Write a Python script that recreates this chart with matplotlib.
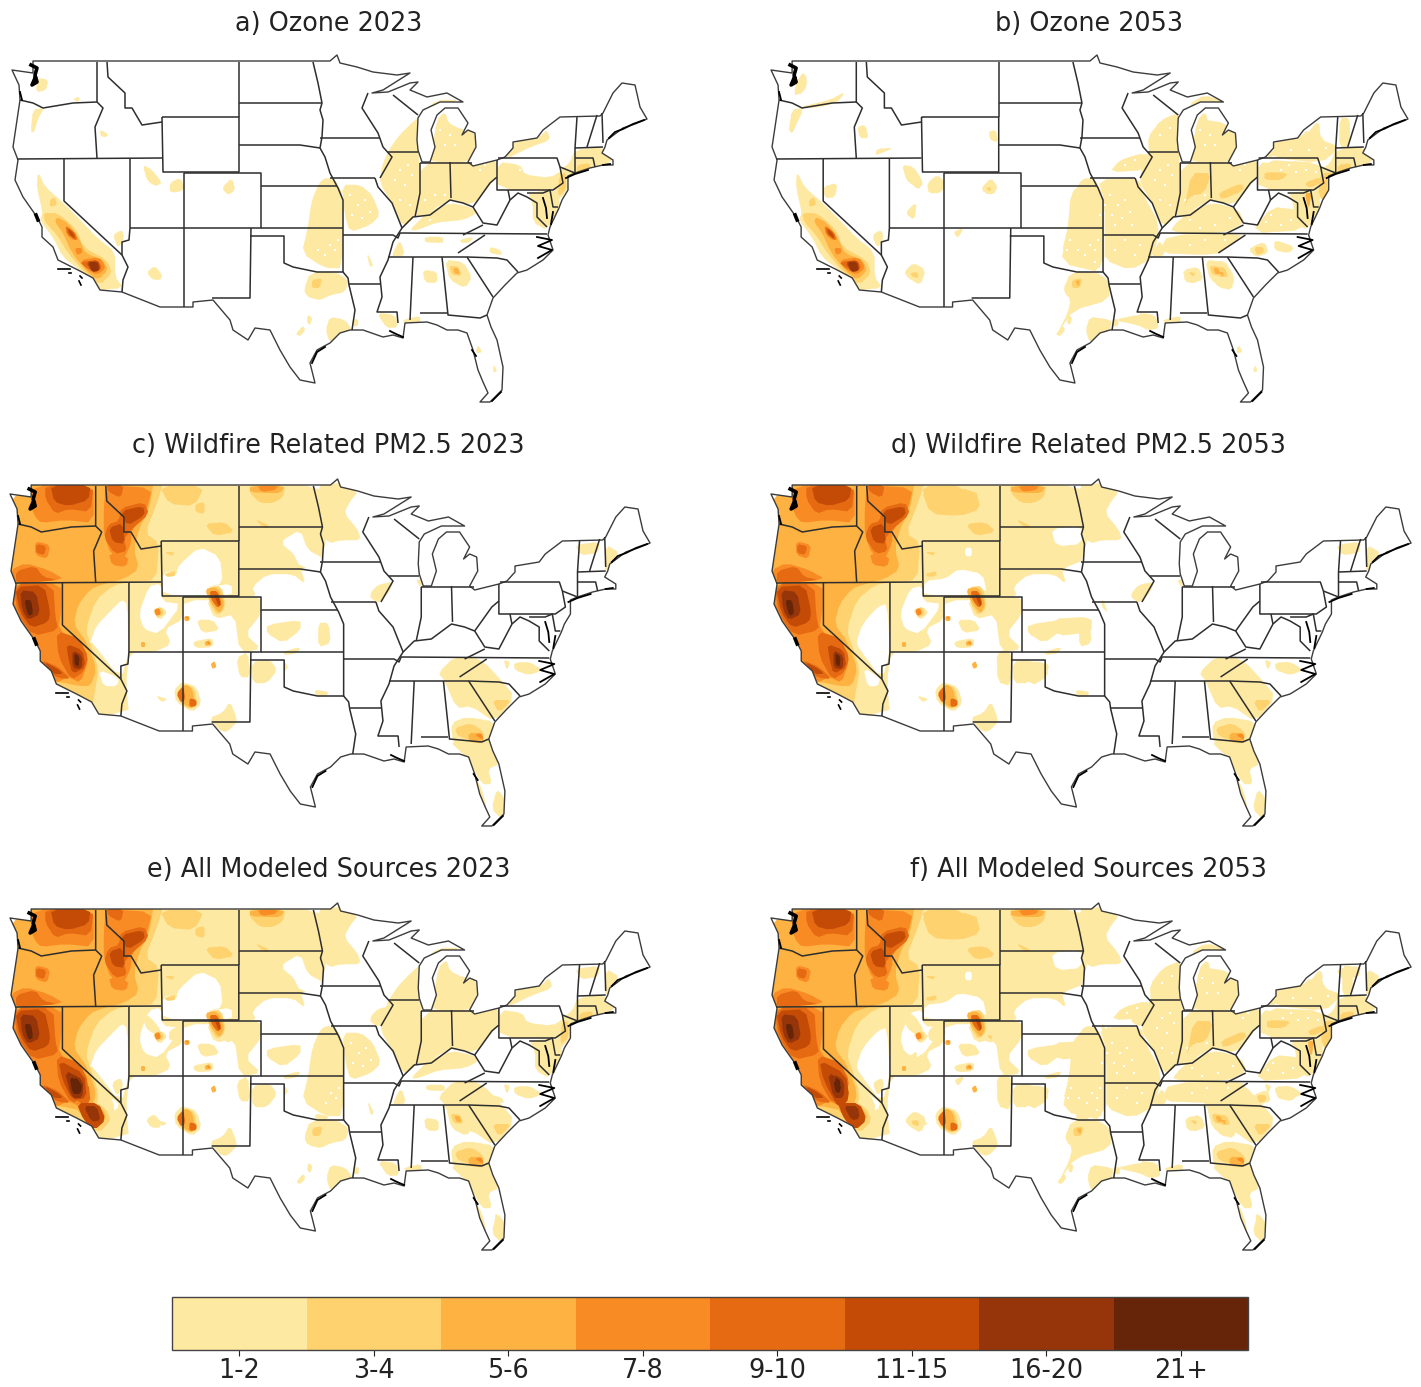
import matplotlib
matplotlib.use('Agg')
from matplotlib import pyplot as plt
from matplotlib.colors import ListedColormap, BoundaryNorm
from matplotlib.cm import ScalarMappable
from matplotlib.patches import Polygon

W, H = 1421, 1387

TITLES = ['a) Ozone 2023', 'b) Ozone 2053', 'c) Wildfire Related PM2.5 2023',
          'd) Wildfire Related PM2.5 2053', 'e) All Modeled Sources 2023', 'f) All Modeled Sources 2053']
BIN_LABELS = ['1-2', '3-4', '5-6', '7-8', '9-10', '11-15', '16-20', '21+']
BIN_COLORS = ['#FDE9A1', '#FDD26F', '#FDB241', '#F98B25', '#E56A12', '#C34B06', '#96350A', '#662508']

# map coordinates
OUTLINE = [(33, 61), (330, 61), (337, 55), (340, 63), (357, 67), (373, 72), (397, 75), (410, 73), (383, 90),
           (372, 93), (388, 92), (410, 83), (418, 82), (410, 90), (427, 97), (447, 93),
           (463, 102), (440, 102), (423, 110), (418, 118), (417, 140), (418, 150), (422, 162), (430, 162),
           (435, 147), (431, 130), (437, 115), (445, 108), (458, 108), (468, 123), (462, 135), (468, 130),
           (475, 133), (476, 147), (468, 162), (473, 166), (497, 160), (505, 157), (513, 148), (513, 142),
           (537, 138), (543, 130), (560, 117), (600, 116), (603, 113), (613, 93), (622, 83), (635, 85),
           (640, 107), (647, 119), (635, 124), (623, 128), (615, 134), (607, 140), (605, 147), (602, 153),
           (613, 160), (613, 165), (603, 165), (590, 168), (575, 173), (568, 176), (568, 190), (562, 200),
           (559, 208), (550, 227), (548, 235), (553, 250), (543, 260), (527, 270), (517, 273), (505, 285),
           (493, 298), (487, 315), (491, 327), (497, 340), (503, 367), (502, 390), (490, 402), (480, 402),
           (488, 393), (483, 382), (478, 370), (473, 350), (467, 333), (458, 330), (447, 330), (437, 325),
           (427, 322), (405, 323), (403, 338), (393, 335), (383, 337), (363, 330), (350, 330), (340, 333),
           (330, 343), (317, 350), (310, 363), (315, 383), (300, 380), (290, 367), (280, 350), (270, 330),
           (255, 328), (248, 340), (233, 330), (230, 320), (213, 300), (193, 302), (193, 307), (160, 307),
           (122, 292), (100, 290), (93, 278), (78, 270), (58, 260), (53, 247), (42, 237), (42, 227), (37, 217),
           (23, 197), (15, 180), (18, 160), (13, 147), (20, 100), (19, 85), (12, 70), (33, 73)]

STATE_LINES = [
    [(20, 100), (33, 103), (43, 108), (73, 103), (97, 102)],
    [(97, 62), (97, 102), (103, 108), (95, 127), (97, 158)],
    [(17, 159), (162, 158)],
    [(107, 62), (108, 77), (125, 93), (125, 108), (132, 108), (142, 125), (162, 122)],
    [(162, 117), (239, 117), (239, 172), (163, 172), (162, 117)],
    [(239, 62), (239, 117)],
    [(239, 103), (322, 103)],
    [(239, 145), (300, 145), (320, 148)],
    [(313, 62), (318, 83), (322, 103), (320, 110), (323, 120), (322, 137), (320, 148), (325, 157), (330, 173),
     (338, 188), (343, 200), (343, 272)],
    [(320, 138), (380, 138)],
    [(330, 178), (375, 178)],
    [(261, 186), (337, 186)],
    [(184, 173), (261, 173), (261, 228), (130, 228)],
    [(261, 228), (343, 228)],
    [(343, 235), (393, 235), (398, 238), (400, 233), (547, 234)],
    [(130, 158), (130, 228), (129, 240), (122, 242), (122, 255), (128, 267), (123, 280), (122, 292)],
    [(184, 173), (184, 307)],
    [(64, 158), (64, 201), (122, 255)],
    [(251, 228), (250, 298), (212, 298)],
    [(250, 236), (284, 236), (284, 263), (293, 267), (317, 272), (343, 272), (348, 278), (349, 285), (355, 310),
     (352, 330)],
    [(349, 284), (380, 284)],
    [(375, 178), (378, 187), (392, 203), (402, 228), (393, 242), (388, 260), (380, 277), (382, 297), (377, 312),
     (397, 312), (398, 323)],
    [(388, 152), (418, 152)],
    [(368, 93), (362, 108), (378, 133), (383, 147), (392, 157), (380, 178)],
    [(393, 95), (418, 115)],
    [(420, 163), (420, 193), (415, 217)],
    [(420, 163), (472, 163)],
    [(450, 162), (451, 198)],
    [(402, 228), (413, 217), (430, 215), (450, 200), (463, 203), (473, 207), (490, 183), (497, 177)],
    [(498, 158), (557, 158), (560, 167), (563, 183), (553, 190), (497, 190), (497, 160)],
    [(473, 207), (483, 223), (497, 225), (510, 200), (518, 193), (527, 197), (537, 203), (537, 217), (547, 227)],
    [(508, 190), (510, 200)],
    [(527, 193), (543, 193), (550, 190), (553, 207), (558, 207)],
    [(483, 225), (463, 235)],
    [(388, 257), (467, 257), (497, 258), (507, 260), (518, 272)],
    [(485, 235), (473, 243), (458, 253)],
    [(467, 257), (493, 297)],
    [(442, 257), (448, 315), (480, 318), (487, 315)],
    [(413, 257), (410, 320)],
    [(420, 313), (447, 313)],
    [(577, 117), (575, 148), (575, 173)],
    [(575, 148), (603, 147)],
    [(575, 158), (593, 158), (595, 167)],
    [(597, 115), (587, 147)],
    [(602, 113), (603, 143)],
    [(560, 167), (575, 173)],
]

COAST_DARK = [
    [(31, 65), (37, 68), (35, 75), (37, 82), (32, 85), (35, 78)],
    [(36, 215), (38, 220)],
]
COAST_THIN = [
    [(20, 92), (22, 100)],
    [(543, 198), (546, 208), (547, 218)],
    [(553, 212), (551, 224)],
    [(537, 237), (552, 240), (538, 246), (552, 250), (538, 258)],
    [(609, 138), (615, 132), (623, 129), (633, 124), (644, 120)],
    [(566, 178), (575, 174), (588, 170)],
    [(603, 165), (610, 164)],
    [(312, 363), (317, 352), (325, 347)],
    [(390, 331), (396, 334), (403, 337)],
    [(472, 350), (476, 356)],
    [(492, 401), (501, 392)],
]

ISLANDS = [[(58, 269), (70, 269)], [(69, 273), (71, 273)], [(80, 276), (82, 278)], [(79, 281), (81, 285)]]

OZONE_2023 = [
    (1, [(38, 172), (45, 187), (62, 202), (80, 220), (97, 238), (115, 252), (115, 277), (123, 288), (97, 290),
         (80, 270), (63, 257), (53, 237), (40, 220), (43, 213), (37, 187)]),
    (1, [(38, 78), (48, 80), (46, 90), (36, 92)]),
    (1, [(33, 110), (44, 108), (38, 118), (34, 132), (31, 132)]),
    (1, [(73, 99), (80, 97), (78, 102)]),
    (1, [(100, 130), (108, 134), (106, 137), (101, 136)]),
    (1, [(113, 235), (122, 230), (124, 238), (118, 248)]),
    (1, [(143, 165), (152, 170), (162, 183), (155, 186), (147, 180)]),
    (1, [(170, 183), (180, 178), (185, 188), (178, 192), (170, 192)]),
    (1, [(222, 188), (232, 178), (235, 190), (228, 195)]),
    (1, [(147, 272), (155, 266), (162, 275), (160, 280), (152, 279)]),
    (1, [(320, 182), (326, 178), (335, 180), (343, 195), (343, 268), (325, 268), (302, 253), (308, 228), (312, 200)]),
    (1, [(304, 290), (310, 273), (335, 272), (348, 280), (345, 292), (330, 295), (320, 300), (308, 297)]),
    (1, [(296, 334), (303, 326), (305, 330), (300, 336)]),
    (1, [(308, 315), (312, 318), (310, 325), (307, 322)]),
    (1, [(330, 317), (345, 320), (352, 330), (340, 333), (330, 343), (326, 330)]),
    (1, [(342, 185), (360, 185), (372, 195), (380, 215), (370, 225), (350, 232), (345, 215)]),
    (1, [(382, 167), (388, 152), (398, 137), (415, 120), (420, 118), (418, 153), (422, 190), (415, 217), (403, 227),
         (392, 203), (380, 183)]),
    (1, [(420, 162), (472, 162), (497, 160), (497, 175), (490, 185), (473, 205), (450, 200), (440, 205), (425, 215),
         (415, 217)]),
    (1, [(410, 230), (427, 213), (450, 203), (470, 207), (477, 213), (463, 220), (437, 222), (417, 230)]),
    (1, [(432, 153), (437, 120), (445, 112), (448, 123), (462, 130), (470, 128), (477, 140), (473, 153), (467, 162),
         (432, 162)]),
    (1, [(420, 115), (437, 100), (460, 100), (437, 110)]),
    (1, [(507, 157), (513, 142), (540, 137), (547, 130), (550, 140), (530, 147), (510, 157)]),
    (1, [(498, 162), (520, 165), (525, 175), (550, 178), (563, 170), (565, 190), (498, 190)]),
    (1, [(575, 150), (603, 147), (613, 163), (573, 180), (560, 200), (553, 197), (560, 170), (570, 163)]),
    (1, [(528, 193), (557, 190), (560, 207), (547, 230), (533, 222), (533, 203)]),
    (1, [(445, 260), (463, 262), (472, 277), (465, 288), (450, 280)]),
    (1, [(423, 270), (437, 272), (437, 283), (425, 282)]),
    (1, [(490, 247), (500, 250), (502, 255), (490, 253)]),
    (1, [(425, 237), (443, 237), (443, 243), (425, 242)]),
    (1, [(460, 240), (473, 237), (470, 242), (462, 243)]),
    (1, [(393, 253), (400, 240), (405, 255), (393, 257)]),
    (1, [(367, 253), (373, 265), (370, 267)]),
    (1, [(377, 313), (395, 315), (398, 327), (387, 328)]),
    (1, [(353, 320), (358, 319), (358, 326), (353, 326)]),
    (1, [(403, 320), (420, 316), (420, 323), (405, 323)]),
    (1, [(478, 345), (482, 352), (476, 353)]),
    (1, [(494, 365), (497, 371), (493, 372)]),
    (2, [(43, 213), (58, 213), (77, 230), (83, 247), (107, 260), (112, 273), (100, 285), (85, 273), (68, 253),
         (57, 235), (45, 222)]),
    (2, [(50, 200), (55, 197), (57, 205), (50, 207)]),
    (2, [(449, 266), (458, 266), (462, 276), (452, 275)]),
    (2, [(312, 280), (322, 278), (320, 288), (312, 288)]),
    (2, [(577, 165), (590, 163), (590, 170), (577, 175)]),
    (2, [(559, 176), (566, 172), (566, 190), (558, 197)]),
    (3, [(57, 217), (68, 223), (80, 240), (85, 253), (103, 260), (108, 270), (98, 280), (87, 272), (72, 253),
         (63, 233), (55, 222)]),
    (3, [(453, 268), (458, 268), (460, 274), (455, 274)]),
    (3, [(570, 175), (590, 168), (588, 172), (568, 180)]),
    (4, [(65, 225), (75, 232), (78, 240), (73, 240), (67, 235)]),
    (4, [(75, 248), (82, 248), (82, 253), (77, 255)]),
    (4, [(80, 260), (100, 257), (106, 268), (97, 275), (87, 270)]),
    (5, [(66, 226), (75, 233), (77, 241), (67, 234)]),
    (5, [(80, 262), (98, 260), (102, 268), (95, 272), (85, 267)]),
    (6, [(68, 228), (74, 234), (75, 239), (69, 234)]),
    (6, [(86, 262), (98, 260), (101, 270), (92, 272)]),
    (7, [(88, 262), (98, 262), (99, 271), (92, 272)]),
]

OZONE_2053_EXTRA = [
    (1, [(324, 182), (344, 200), (344, 273), (301, 263), (308, 230), (311, 193)]),
    (1, [(303, 287), (314, 277), (349, 280), (349, 300), (313, 310), (298, 333), (308, 313), (311, 300)]),
    (1, [(329, 317), (351, 320), (351, 327), (331, 340)]),
    (1, [(338, 180), (379, 178), (384, 197), (399, 223), (394, 257), (370, 270), (345, 260), (345, 240), (345, 200)]),
    (1, [(360, 160), (384, 153), (391, 160), (384, 170), (350, 172)]),
    (1, [(388, 137), (401, 120), (418, 113), (421, 130), (421, 153), (389, 153)]),
    (1, [(418, 220), (454, 203), (478, 210), (484, 223), (464, 233), (411, 233)]),
    (1, [(398, 253), (408, 235), (484, 233), (468, 247), (454, 255)]),
    (1, [(508, 157), (518, 140), (544, 137), (558, 120), (560, 140), (579, 147), (561, 163)]),
    (1, [(501, 160), (561, 163), (566, 183), (558, 190), (501, 190)]),
    (1, [(579, 148), (604, 148), (613, 163), (579, 170)]),
    (1, [(579, 118), (589, 118), (589, 145), (579, 148)]),
    (1, [(433, 160), (434, 132), (444, 120), (464, 123), (471, 133), (478, 137), (479, 150), (471, 162)]),
    (1, [(428, 105), (444, 95), (464, 102), (444, 105)]),
    (1, [(538, 210), (544, 230), (491, 233), (511, 207)]),
    (1, [(491, 247), (504, 242), (508, 253), (494, 257)]),
    (1, [(514, 240), (534, 247), (528, 253), (514, 250)]),
    (1, [(448, 265), (464, 260), (474, 277), (471, 290), (458, 287), (451, 277)]),
    (1, [(423, 270), (438, 267), (443, 280), (428, 283)]),
    (1, [(354, 320), (378, 315), (394, 315), (399, 328), (388, 330), (378, 325)]),
    (1, [(43, 72), (48, 78), (44, 93), (34, 95)]),
    (1, [(71, 100), (86, 92), (78, 102), (61, 107), (38, 108)]),
    (1, [(33, 110), (44, 110), (38, 122), (33, 133), (30, 130)]),
    (1, [(98, 127), (106, 125), (109, 138), (101, 138)]),
    (1, [(116, 155), (118, 149), (134, 148), (124, 152)]),
    (1, [(64, 187), (78, 183), (76, 197), (66, 198)]),
    (1, [(143, 165), (154, 167), (164, 183), (158, 190), (148, 177)]),
    (1, [(168, 183), (178, 175), (186, 183), (181, 193), (169, 193)]),
    (1, [(221, 190), (231, 178), (238, 187), (233, 195)]),
    (1, [(145, 272), (154, 263), (166, 270), (161, 285), (149, 278)]),
    (1, [(229, 132), (236, 130), (238, 142), (231, 140)]),
    (1, [(146, 213), (157, 202), (155, 220)]),
    (1, [(194, 232), (204, 228), (198, 238)]),
    (2, [(504, 172), (528, 173), (521, 180), (504, 180)]),
    (2, [(544, 183), (559, 177), (561, 183), (548, 188)]),
    (2, [(561, 173), (573, 173), (568, 197), (559, 200)]),
    (2, [(431, 173), (451, 173), (444, 193), (428, 197), (424, 210)]),
    (2, [(458, 193), (481, 183), (484, 190), (461, 200)]),
    (2, [(494, 247), (503, 247), (503, 253), (496, 255)]),
    (2, [(454, 267), (464, 267), (468, 277), (458, 277)]),
    (2, [(428, 272), (435, 273), (433, 277)]),
    (2, [(226, 188), (231, 187), (231, 192)]),
    (2, [(151, 273), (158, 272), (159, 278), (153, 277)]),
    (3, [(458, 272), (463, 272), (463, 277)]),
    (3, [(573, 177), (594, 172), (593, 175), (574, 180)]),
    (3, [(544, 193), (551, 193), (548, 210)]),
    (3, [(315, 281), (320, 280), (319, 287)]),
]

# white flecks inside the lightest band
SPECKS_2023 = [(350, 195), (358, 205), (365, 200), (352, 215), (362, 218), (370, 212), (338, 240), (335, 250),
               (330, 245), (325, 255), (318, 250), (400, 170), (408, 165), (395, 180), (405, 185), (412, 175),
               (400, 200), (410, 205), (425, 200), (435, 195), (445, 195), (480, 170), (485, 165), (520, 170),
               (535, 172), (545, 170), (555, 172), (440, 130), (450, 135), (455, 145), (445, 145), (430, 220)]
SPECKS_2053 = SPECKS_2023 + [(345, 205), (355, 225), (372, 225), (365, 240), (355, 250), (380, 245), (375, 255),
                             (440, 228), (455, 225), (470, 218), (430, 245), (445, 240), (465, 240), (520, 225),
                             (530, 220), (505, 222), (512, 150), (530, 150), (548, 150), (560, 132), (570, 135),
                             (565, 148), (528, 165), (510, 215), (400, 135), (410, 128), (365, 165), (375, 160),
                             (310, 240), (307, 250), (340, 215), (335, 262)]

FIRE_MAIN = [(0, 50), (325, 50), (325, 135), (300, 145), (305, 160), (293, 150), (267, 150), (252, 163), (256, 172),
             (240, 172), (240, 176), (184, 176), (184, 195), (165, 205), (172, 220), (155, 228), (130, 228),
             (127, 260), (130, 292), (0, 295)]

FIRE_HOLES_2023 = [
    [(283, 116), (300, 106), (307, 126), (322, 134), (322, 143), (300, 143), (293, 129), (283, 121)],
    [(92, 219), (97, 203), (113, 186), (123, 176), (128, 180), (130, 228), (122, 255), (92, 216)],
    [(100, 246), (120, 254), (118, 262), (105, 262)],
    [(180, 141), (200, 123), (220, 133), (223, 159), (207, 163), (187, 161), (177, 149)],
    [(163, 148), (185, 150), (207, 163), (232, 160), (232, 172), (163, 172)],
    [(150, 162), (162, 160), (163, 178), (182, 180), (160, 210), (145, 205), (140, 190)],
]

FIRE_HOLES_2053 = [
    [(290, 105), (320, 102), (320, 120), (295, 122)],
    [(97, 218), (103, 200), (118, 183), (127, 180), (130, 228), (122, 255), (100, 225)],
    [(104, 244), (120, 254), (118, 262), (108, 262)],
    [(205, 124), (211, 124), (211, 132), (205, 132)],
    [(165, 157), (185, 155), (198, 145), (222, 150), (226, 170), (163, 172)],
    [(150, 165), (162, 162), (163, 178), (182, 180), (160, 210), (145, 205), (140, 190)],
]

FIRE_2023 = [
    (1, [(315, 61), (343, 59), (357, 68), (350, 76), (343, 89), (357, 106), (360, 116), (340, 116), (330, 119), (322, 113)]),
    (1, [(233, 173), (261, 173), (261, 190), (245, 210), (261, 225), (240, 228), (235, 190), (215, 195), (207, 175)]),
    (1, [(197, 196), (213, 196), (220, 206), (203, 209)]),
    (1, [(193, 218), (213, 214), (213, 223), (197, 224)]),
    (1, [(267, 201), (300, 196), (300, 206), (283, 219), (267, 209)]),
    (1, [(318, 199), (328, 199), (330, 219), (318, 223)]),
    (1, [(283, 228), (300, 223), (297, 229), (285, 231)]),
    (1, [(237, 234), (248, 228), (250, 253), (240, 253)]),
    (1, [(252, 238), (270, 236), (277, 246), (267, 259), (253, 259)]),
    (1, [(283, 237), (288, 243), (284, 248)]),
    (1, [(210, 294), (223, 289), (230, 278), (235, 289), (237, 298), (227, 308), (220, 306)]),
    (1, [(175, 266), (183, 258), (197, 263), (202, 279), (193, 288), (177, 278)]),
    (1, [(157, 272), (168, 275), (163, 278)]),
    (1, [(153, 186), (163, 183), (168, 189), (160, 196)]),
    (1, [(135, 221), (147, 216), (147, 223), (137, 223)]),
    (1, [(315, 266), (328, 268), (325, 273), (315, 271)]),
    (1, [(370, 169), (377, 161), (392, 158), (388, 168), (378, 179), (370, 174)]),
    (1, [(415, 156), (420, 156), (420, 164)]),
    (1, [(573, 121), (597, 118), (595, 129), (578, 131)]),
    (1, [(603, 121), (617, 129), (607, 146), (602, 146)]),
    (1, [(437, 249), (453, 233), (473, 234), (483, 239), (497, 254), (513, 273), (493, 298), (470, 282), (455, 284), (443, 256)]),
    (1, [(450, 299), (465, 293), (493, 298), (493, 313), (490, 322), (470, 325), (467, 333), (451, 318)]),
    (1, [(447, 316), (490, 318), (497, 340), (486, 345), (490, 360), (480, 360), (467, 335)]),
    (1, [(473, 353), (480, 365), (485, 385), (478, 375)]),
    (1, [(495, 365), (503, 375), (500, 395), (490, 385)]),
    (1, [(512, 239), (527, 238), (540, 246), (527, 251), (513, 246)]),
    (1, [(502, 236), (508, 238), (505, 246)]),
    (2, [(0, 55), (165, 55), (158, 79), (146, 109), (160, 119), (157, 156), (133, 158), (115, 161), (97, 176), (87, 206),
         (93, 223), (100, 246), (97, 263), (93, 286), (0, 295)]),
    (2, [(160, 62), (205, 62), (195, 82), (170, 80)]),
    (2, [(196, 80), (205, 78), (205, 90), (196, 88)]),
    (2, [(205, 100), (225, 98), (235, 108), (215, 112)]),
    (2, [(165, 150), (176, 147), (176, 152), (168, 153)]),
    (2, [(165, 128), (175, 128), (173, 132)]),
    (2, [(250, 61), (285, 61), (283, 73), (273, 79), (260, 79), (250, 69)]),
    (2, [(255, 95), (270, 102), (265, 105)]),
    (2, [(490, 276), (510, 276), (497, 289)]),
    (2, [(453, 304), (470, 299), (483, 309), (480, 318), (457, 313)]),
    (2, [(178, 268), (185, 260), (195, 264), (198, 282), (190, 285), (180, 278)]),
    (2, [(155, 185), (162, 183), (165, 190), (158, 194)]),
    (2, [(208, 163), (222, 162), (226, 183), (218, 192), (210, 180)]),
    (3, [(0, 55), (155, 55), (150, 85), (140, 105), (135, 125), (140, 145), (125, 155), (105, 160), (92, 165), (80, 180),
         (75, 200), (88, 218), (98, 245), (92, 262), (80, 262), (62, 258), (0, 250)]),
    (3, [(250, 62), (285, 62), (280, 69), (267, 69), (250, 68)]),
    (3, [(467, 309), (480, 309), (482, 319), (467, 318)]),
    (3, [(178, 268), (186, 260), (193, 265), (196, 282), (190, 284), (181, 277)]),
    (3, [(205, 165), (218, 163), (225, 180), (220, 190), (212, 180)]),
    (3, [(142, 218), (146, 218), (146, 223), (142, 223)]),
    (3, [(185, 192), (190, 192), (190, 197), (185, 197)]),
    (3, [(205, 218), (210, 216), (212, 221), (206, 222)]),
    (3, [(211, 240), (215, 237), (217, 243), (213, 245)]),
    (4, [(35, 61), (95, 61), (95, 99), (67, 96), (43, 99), (37, 93), (33, 83)]),
    (4, [(37, 117), (52, 121), (49, 135), (37, 131)]),
    (4, [(13, 146), (27, 139), (50, 146), (67, 156), (13, 159)]),
    (4, [(107, 61), (153, 64), (148, 85), (133, 105), (132, 120), (125, 135), (112, 130), (105, 110), (105, 85)]),
    (4, [(110, 129), (130, 133), (127, 143), (113, 141)]),
    (4, [(15, 159), (63, 159), (63, 186), (60, 206), (83, 219), (90, 236), (82, 259), (70, 253), (57, 259), (43, 243),
         (37, 223), (23, 203), (15, 179)]),
    (4, [(257, 62), (278, 62), (275, 66), (262, 68)]),
    (4, [(473, 311), (480, 309), (482, 316)]),
    (4, [(155, 186), (160, 184), (162, 190), (157, 192)]),
    (4, [(186, 193), (189, 193), (189, 196)]),
    (4, [(207, 218), (210, 218), (210, 221)]),
    (5, [(47, 61), (95, 61), (92, 88), (70, 85), (57, 90), (47, 75)]),
    (5, [(107, 61), (125, 61), (122, 74), (110, 68)]),
    (5, [(122, 84), (145, 78), (150, 90), (132, 106), (125, 115), (128, 127), (116, 130), (105, 113), (110, 100), (120, 97)]),
    (5, [(18, 147), (37, 142), (45, 153), (60, 156), (18, 160)]),
    (5, [(38, 120), (48, 122), (46, 131), (38, 129)]),
    (5, [(15, 160), (55, 160), (57, 193), (60, 206), (35, 212), (20, 190)]),
    (5, [(58, 207), (80, 214), (90, 233), (85, 248), (73, 256), (60, 233)]),
    (5, [(43, 236), (60, 243), (72, 255), (60, 254), (50, 248)]),
    (5, [(177, 270), (184, 262), (186, 275), (182, 279)]),
    (5, [(190, 274), (197, 276), (197, 282), (190, 283)]),
    (5, [(210, 167), (218, 167), (222, 180), (218, 184), (212, 176)]),
    (6, [(52, 61), (92, 61), (90, 76), (70, 82), (56, 78)]),
    (6, [(122, 87), (144, 82), (146, 91), (128, 102)]),
    (6, [(110, 104), (124, 99), (126, 120), (114, 118)]),
    (6, [(17, 163), (46, 161), (52, 188), (50, 198), (33, 204), (22, 188)]),
    (6, [(68, 220), (84, 226), (87, 243), (74, 250), (70, 235)]),
    (6, [(46, 238), (58, 244), (65, 250), (55, 250)]),
    (6, [(214, 170), (219, 172), (221, 181), (219, 182)]),
    (7, [(22, 166), (38, 168), (42, 190), (30, 196), (24, 186)]),
    (7, [(74, 226), (84, 232), (83, 245), (74, 244)]),
    (8, [(26, 176), (33, 176), (35, 190), (30, 192)]),
    (8, [(76, 229), (81, 233), (80, 243), (76, 240)]),
]

FIRE_2053_EXTRA = [
    (1, [(253, 238), (285, 238), (287, 252), (270, 262)]),
    (1, [(236, 228), (250, 225), (250, 262), (237, 258)]),
    (1, [(341, 175), (340, 182), (346, 189)]),
    (1, [(290, 195), (330, 193), (330, 208), (295, 212)]),
    (2, [(161, 65), (215, 65), (220, 85), (200, 92), (170, 90)]),
    (3, [(14, 130), (40, 125), (60, 135), (100, 140), (97, 158), (14, 159)]),
]

SUM_2023_EXTRA = [
    (5, [(62, 215), (90, 235), (92, 255), (80, 255), (66, 238)]),
    (6, [(60, 212), (86, 226), (88, 250), (74, 252), (64, 232)]),
    (6, [(78, 255), (100, 255), (107, 272), (96, 282), (85, 272)]),
    (7, [(66, 222), (85, 232), (84, 250), (73, 250)]),
    (7, [(85, 258), (98, 258), (102, 272), (93, 274)]),
    (8, [(71, 228), (84, 236), (82, 246), (74, 246)]),
    (1, [(304, 290), (310, 273), (335, 272), (345, 280), (330, 295), (308, 297)]),
]

SUM_2053_EXTRA = [
    (6, [(60, 212), (86, 226), (90, 250), (80, 262), (64, 232)]),
    (6, [(78, 255), (100, 255), (107, 272), (96, 282), (85, 272)]),
    (7, [(68, 224), (85, 234), (84, 250), (74, 250)]),
    (7, [(84, 258), (98, 258), (100, 270), (92, 272)]),
    (8, [(74, 232), (82, 238), (80, 245), (76, 244)]),
]


def smooth(pts, rounds=1):
    # corner cutting so the hand-read shapes look like contours
    for _ in range(rounds):
        out = []
        for i, (x0, y0) in enumerate(pts):
            x1, y1 = pts[(i + 1) % len(pts)]
            out.append((0.8 * x0 + 0.2 * x1, 0.8 * y0 + 0.2 * y1))
            out.append((0.2 * x0 + 0.8 * x1, 0.2 * y0 + 0.8 * y1))
        pts = out
    return pts


def draw_map(ax, holes, patches, specks, main=True):
    clip = Polygon(OUTLINE, closed=True, transform=ax.transData, fc='none', ec='none')
    ax.add_patch(clip)

    def fill(pts, col):
        p = Polygon(smooth(pts), closed=True, fc=col, ec=col, lw=0.3)
        ax.add_patch(p)
        p.set_clip_path(clip)

    if main:
        fill(FIRE_MAIN, BIN_COLORS[0])
    for h in holes:
        fill(h, 'white')
    ordered = sorted(patches, key=lambda p: p[0])
    for lev, pts in ordered:
        if lev == 1:
            fill(pts, BIN_COLORS[0])
    if specks:
        ax.scatter(*zip(*specks), s=2.5, marker='s', color='white', linewidths=0, zorder=1.5)
    for lev, pts in ordered:
        if lev > 1:
            p = Polygon(smooth(pts), closed=True, fc=BIN_COLORS[lev - 1], ec='none', zorder=1.6)
            ax.add_patch(p)
            p.set_clip_path(clip)
    ax.add_patch(Polygon(OUTLINE, closed=True, fc='none', ec='#3c3c3c', lw=1.0, joinstyle='round', zorder=3))
    for seg in STATE_LINES:
        ax.plot(*zip(*seg), color='#2e2e2e', lw=1.1, solid_capstyle='butt', zorder=3)
    for seg in COAST_DARK:
        ax.plot(*zip(*seg), color='black', lw=2.6, zorder=3)
    for seg in COAST_THIN:
        ax.plot(*zip(*seg), color='black', lw=1.3, zorder=3)
    for seg in ISLANDS:
        ax.plot(*zip(*seg), color='black', lw=1.2, zorder=3)


fig = plt.figure(figsize=(W / 100, H / 100), dpi=100)

# x offset, x scale, y offset, title centre, title y
PANELS = [(0, 1.0, 0, 329, 24), (759, 1.003, 0, 1089, 24),
          (-2.1, 1.008, 424, 328, 446), (758.9, 1.008, 424, 1088, 446),
          (-2.1, 1.008, 848, 329, 870), (758.9, 1.008, 848, 1088, 870)]

X0, X1, Y0, Y1 = 5, 660, 45, 410
CONTENT = [
    ([], OZONE_2023, SPECKS_2023, False),
    ([], OZONE_2023 + OZONE_2053_EXTRA, SPECKS_2053, False),
    (FIRE_HOLES_2023, FIRE_2023, [], True),
    (FIRE_HOLES_2053, FIRE_2023 + FIRE_2053_EXTRA, [], True),
    (FIRE_HOLES_2023, FIRE_2023 + OZONE_2023 + SUM_2023_EXTRA, SPECKS_2023[:10], True),
    (FIRE_HOLES_2053, FIRE_2023 + FIRE_2053_EXTRA + OZONE_2023 + OZONE_2053_EXTRA + SUM_2053_EXTRA, SPECKS_2053, True),
]
for (ox, sx, oy, tx, ty), title, (holes, patches, specks, main) in zip(PANELS, TITLES, CONTENT):
    left = (ox + sx * X0) / W
    width = sx * (X1 - X0) / W
    bottom = 1 - (oy + Y1) / H
    height = (Y1 - Y0) / H
    ax = fig.add_axes([left, bottom, width, height])
    ax.set_xlim(X0, X1)
    ax.set_ylim(Y1, Y0)
    ax.axis('off')
    draw_map(ax, holes, patches, specks, main)
    fig.text(tx / W, 1 - ty / H, title, ha='center', va='center', fontsize=18.4, color='#222222')

cax = fig.add_axes([172 / W, 1 - 1350 / H, (1248 - 172) / W, 53 / H])
cmap = ListedColormap(BIN_COLORS)
norm = BoundaryNorm(range(len(BIN_COLORS) + 1), cmap.N)
cb = fig.colorbar(ScalarMappable(norm=norm, cmap=cmap), cax=cax, orientation='horizontal', spacing='uniform')
cb.set_ticks([i + 0.5 for i in range(len(BIN_LABELS))])
cb.set_ticklabels(BIN_LABELS)
cb.ax.tick_params(labelsize=18.4, length=4, width=0.8, colors='#222222', pad=2)
cb.ax.minorticks_off()
cb.outline.set_linewidth(1.0)
cb.outline.set_edgecolor('#444444')

fig.savefig('out.png', dpi=100)
